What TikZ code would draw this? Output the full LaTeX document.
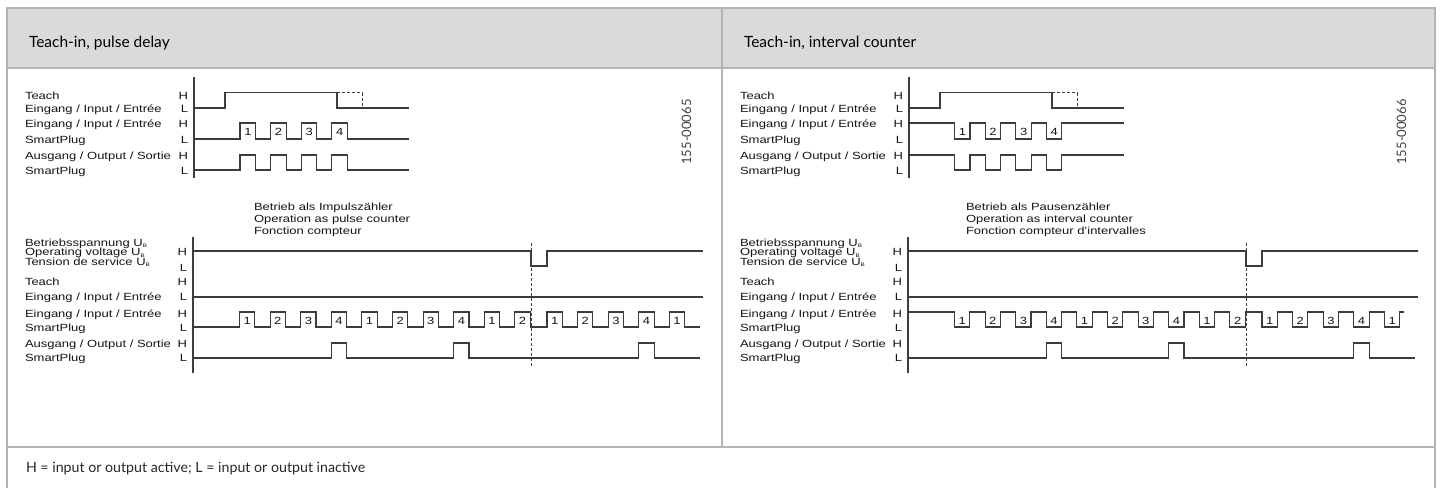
\documentclass[tikz,border=0pt]{standalone}
\usepackage{fontspec}
\setmainfont{Lato}
\newfontfamily\sigfont[FakeStretch=1.25]{Liberation Sans}
\definecolor{framegray}{HTML}{B4B4B4}
\definecolor{headgray}{HTML}{DADADA}
\definecolor{wavegray}{HTML}{3C3C3C}
\newcommand{\ub}{U\raisebox{-1.5pt}{\fontsize{5}{5}\selectfont B}}

\begin{document}
\begin{tikzpicture}[x=1pt,y=-1pt,
	every node/.style={inner sep=0pt,outer sep=0pt},
	sig/.style={font=\sigfont\fontsize{10.4}{10.4}\selectfont,text=black!92},
	lbl/.style={sig,anchor=base west},
	lvl/.style={sig,anchor=base east},
	num/.style={sig,anchor=center},
	headtext/.style={font=\fontsize{15.5}{15.5}\selectfont,anchor=base west},
	foottext/.style={font=\fontsize{14.2}{14.2}\selectfont,anchor=base west,text=black!85},
	drawno/.style={font=\fontsize{13}{13}\selectfont,rotate=90,text=black!75},
	wave/.style={draw=wavegray,line width=1.1pt},
	cutline/.style={draw=wavegray,line width=0.9pt,densely dashed},
	panelframe/.style={draw=framegray,line width=1.6pt}]
	\useasboundingbox (0,0) rectangle (1440,488);
	% table frame
	\fill[headgray] (7,8) rectangle (1435,68);
	\draw[panelframe] (7,488) -- (7,8) -- (1435,8) -- (1435,488);
	\draw[panelframe] (7,68) -- (1435,68);
	\draw[panelframe] (722,8) -- (722,447);
	\draw[panelframe] (7,447) -- (1435,447);
	\node[headtext] (headL) at (29,47) {Teach-in, pulse delay};
	\node[headtext] (headR) at (744,47) {Teach-in, interval counter};
	\node[foottext] (legend) at (26,472) {H = input or output active; L = input or output inactive};

	% parts both panels share
	\foreach \ox/\p/\drw in {0/L/155-00065,715/R/155-00066}{
		\begin{scope}[xshift=\ox]
			\node[drawno] (no\p) at (686.5,132) {\drw};
			\node[lbl] (teachA\p) at (25,99) {Teach};
			\node[lbl] (teachB\p) at (25,112) {Eingang / Input / Entrée};
			\node[lbl] (inA\p) at (25,127.5) {Eingang / Input / Entrée};
			\node[lbl] (inB\p) at (25,143) {SmartPlug};
			\node[lbl] (outA\p) at (25,159) {Ausgang / Output / Sortie};
			\node[lbl] (outB\p) at (25,174) {SmartPlug};
			\foreach \y/\l [count=\i] in {99/H,112/L,127.5/H,143/L,159/H,174/L}
				\node[lvl] (lvA\p\i) at (188,\y) {\l};
			\draw[wave] (194,77) -- (194,178);
			\draw[wave] (194,108) -- (225,108) -- (225,92.7) -- (337,92.7) -- (337,108) -- (409,108);
			\draw[cutline] (337,92.7) -- (362,92.7) -- (362,108);

			\node[lbl] (ubA\p) at (25,246) {Betriebsspannung \ub};
			\node[lbl] (ubB\p) at (25,255.5) {Operating voltage \ub};
			\node[lbl] (ubC\p) at (25,265) {Tension de service \ub};
			\node[lbl] (tchA\p) at (25,285) {Teach};
			\node[lbl] (tchB\p) at (25,300) {Eingang / Input / Entrée};
			\node[lbl] (sinA\p) at (25,317.5) {Eingang / Input / Entrée};
			\node[lbl] (sinB\p) at (25,331) {SmartPlug};
			\node[lbl] (soutA\p) at (25,347.5) {Ausgang / Output / Sortie};
			\node[lbl] (soutB\p) at (25,361) {SmartPlug};
			\foreach \y/\l [count=\i] in {255.5/H,271/L,285/H,300/L,317.5/H,331/L,347.5/H,361/L}
				\node[lvl] (lvB\p\i) at (187,\y) {\l};
			\draw[wave] (193,237) -- (193,373);
			\draw[wave] (193,251) -- (531,251) -- (531,266) -- (547,266) -- (547,251) -- (703,251);
			\draw[wave] (193,297) -- (703,297);
			\draw[wave] (193,358) \foreach \s in {331.3,453.7,638.8}{-- (\s,358) -- ++(0,-15) -- ++(15.3,0) -- ++(0,15)} -- (700,358);
			\draw[cutline] (531,243) -- (531,367);
		\end{scope}
	}

	% upper left: pulses high
	\draw[wave] (194,139) \foreach \k in {0,...,3}{-- ({240+30.6*\k},139) -- ++(0,-16) -- ++(15.5,0) -- ++(0,16)} -- (409,139);
	\draw[wave] (194,170) \foreach \k in {0,...,3}{-- ({240+30.6*\k},170) -- ++(0,-15) -- ++(15.5,0) -- ++(0,15)} -- (409,170);
	\foreach \k in {0,...,3}
		\node[num] (pL\k) at ({248+30.6*\k},131.5) {\pgfmathparse{int(\k+1)}\pgfmathresult};
	% upper right: pulses low
	\draw[wave] (909,123) \foreach \k in {0,...,3}{-- ({954.5+30.6*\k},123) -- ++(0,16) -- ++(15.5,0) -- ++(0,-16)} -- (1124,123);
	\draw[wave] (909,155) \foreach \k in {0,...,3}{-- ({954.5+30.6*\k},155) -- ++(0,15) -- ++(15.5,0) -- ++(0,-15)} -- (1124,155);
	\foreach \k in {0,...,3}
		\node[num] (pR\k) at ({962.5+30.6*\k},131.5) {\pgfmathparse{int(\k+1)}\pgfmathresult};

	% lower left: pulse counter
	\node[sig,anchor=base west] (modeL1) at (254,210.5) {Betrieb als Impulszähler};
	\node[sig,anchor=base west] (modeL2) at (254,222.5) {Operation as pulse counter};
	\node[sig,anchor=base west] (modeL3) at (254,234.5) {Fonction compteur};
	\draw[wave] (193,327) \foreach \k in {0,...,9}{-- ({239.5+30.6*\k},327) -- ++(0,-15) -- ++(15.3,0) -- ++(0,15)}
		\foreach \k in {0,...,4}{-- ({547+30.6*\k},327) -- ++(0,-15) -- ++(15.3,0) -- ++(0,15)} -- (700,327);
	\foreach \n [count=\k from 0] in {1,2,3,4,1,2,3,4,1,2}
		\node[num] (qL\k) at ({247.2+30.6*\k},320.5) {\n};
	\foreach \n [count=\k from 0] in {1,2,3,4,1}
		\node[num] (rL\k) at ({554.7+30.6*\k},320.5) {\n};

	% lower right: interval counter
	\node[sig,anchor=base west] (modeR1) at (966,210.5) {Betrieb als Pausenzähler};
	\node[sig,anchor=base west] (modeR2) at (966,222.5) {Operation as interval counter};
	\node[sig,anchor=base west] (modeR3) at (966,234.5) {Fonction compteur d’intervalles};
	\draw[wave] (908,312) \foreach \k in {0,...,9}{-- ({954.5+30.6*\k},312) -- ++(0,15) -- ++(15.3,0) -- ++(0,-15)}
		\foreach \k in {0,...,4}{-- ({1262+30.6*\k},312) -- ++(0,15) -- ++(15.3,0) -- ++(0,-15)} -- (1404,312);
	\foreach \n [count=\k from 0] in {1,2,3,4,1,2,3,4,1,2}
		\node[num] (qR\k) at ({962.2+30.6*\k},320.5) {\n};
	\foreach \n [count=\k from 0] in {1,2,3,4,1}
		\node[num] (rR\k) at ({1269.7+30.6*\k},320.5) {\n};
\end{tikzpicture}
\end{document}
